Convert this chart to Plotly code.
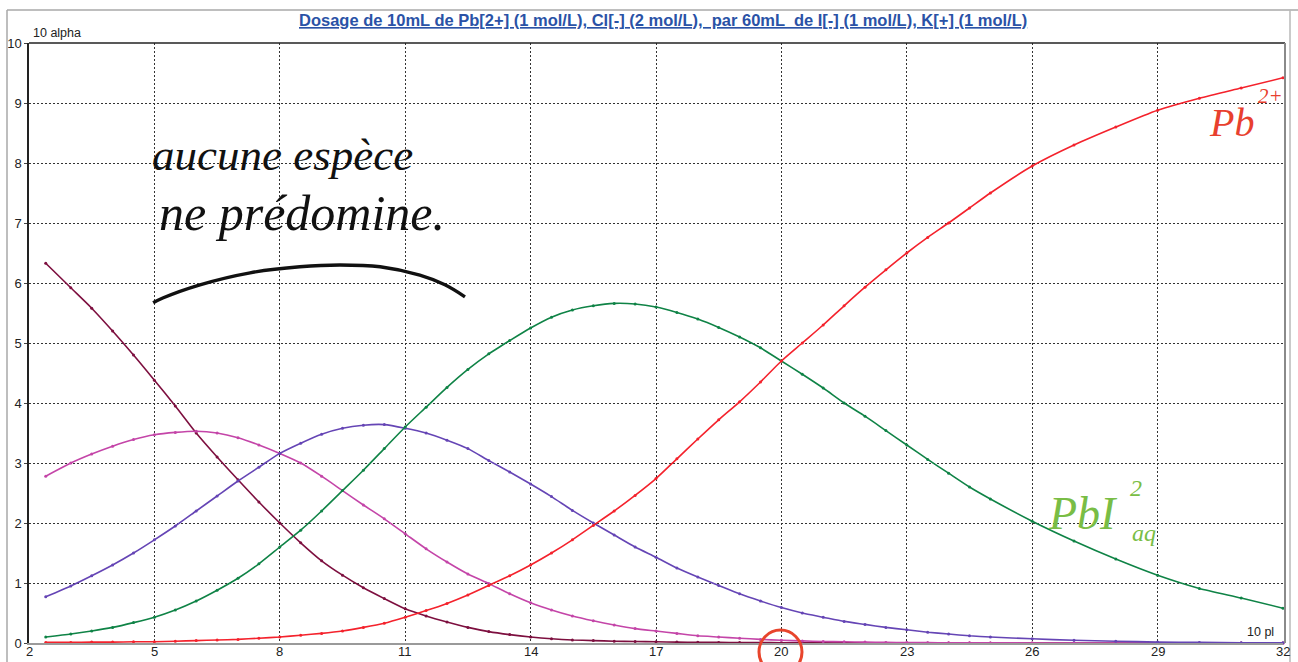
import plotly.graph_objects as go

# Volume axis (unit: 10 pl) and fractions (unit: 10 alpha) of each lead species
volume = [2.4, 3.0, 3.5, 4.0, 4.5, 5.0, 5.5, 6.0, 6.5, 7.0,
          7.5, 8.0, 8.5, 9.0, 9.5, 10.0, 10.5, 11.0, 11.5, 12.0,
          12.5, 13.0, 13.5, 14.0, 14.5, 15.0, 15.5, 16.0, 16.5, 17.0,
          17.5, 18.0, 18.5, 19.0, 19.5, 20.0, 20.5, 21.0, 21.5, 22.0,
          22.5, 23.0, 23.5, 24.0, 24.5, 25.0, 26.0, 27.0, 28.0, 29.0,
          30.0, 31.0, 32.0]

alpha_maroon = [6.33, 5.92, 5.58, 5.2, 4.8, 4.38, 3.95, 3.5, 3.1, 2.72,
                2.35, 2.0, 1.67, 1.37, 1.13, 0.92, 0.74, 0.57, 0.45, 0.35,
                0.26, 0.19, 0.14, 0.1, 0.07, 0.05, 0.04, 0.03, 0.025, 0.02,
                0.015, 0.012, 0.01, 0.008, 0.006, 0.005, 0.004, 0.003, 0.002, 0.002,
                0.001, 0.001, 0.001, 0.001, 0.0, 0.0, 0.0, 0.0, 0.0, 0.0,
                0.0, 0.0, 0.0]

alpha_pink = [2.78, 3.0, 3.15, 3.28, 3.39, 3.47, 3.51, 3.53, 3.5, 3.42,
              3.3, 3.16, 3.0, 2.78, 2.54, 2.3, 2.07, 1.82, 1.57, 1.35,
              1.15, 0.99, 0.82, 0.67, 0.55, 0.45, 0.37, 0.3, 0.24, 0.2,
              0.16, 0.12, 0.1, 0.08, 0.06, 0.045, 0.035, 0.025, 0.02, 0.015,
              0.01, 0.008, 0.006, 0.004, 0.003, 0.002, 0.001, 0.0, 0.0, 0.0,
              0.0, 0.0, 0.0]

alpha_purple = [0.77, 0.95, 1.12, 1.3, 1.5, 1.72, 1.95, 2.2, 2.45, 2.7,
                2.93, 3.16, 3.33, 3.48, 3.58, 3.63, 3.64, 3.58, 3.5, 3.38,
                3.24, 3.04, 2.85, 2.65, 2.44, 2.21, 2.0, 1.8, 1.6, 1.43,
                1.25, 1.1, 0.96, 0.82, 0.7, 0.59, 0.5, 0.43, 0.36, 0.31,
                0.26, 0.22, 0.18, 0.15, 0.12, 0.1, 0.07, 0.045, 0.03, 0.015,
                0.01, 0.005, 0.003]

alpha_pbi2 = [0.1, 0.15, 0.2, 0.26, 0.34, 0.43, 0.55, 0.7, 0.88, 1.08,
              1.32, 1.6, 1.88, 2.2, 2.54, 2.88, 3.24, 3.6, 3.93, 4.26,
              4.56, 4.82, 5.04, 5.25, 5.43, 5.55, 5.62, 5.66, 5.65, 5.6,
              5.51, 5.4, 5.26, 5.1, 4.92, 4.7, 4.48, 4.25, 4.0, 3.78,
              3.54, 3.3, 3.06, 2.83, 2.6, 2.4, 2.03, 1.7, 1.4, 1.13,
              0.91, 0.75, 0.58]

alpha_pb2 = [0.01, 0.01, 0.015, 0.015, 0.02, 0.02, 0.03, 0.04, 0.05, 0.06,
             0.08, 0.1, 0.13, 0.16, 0.2, 0.26, 0.33, 0.43, 0.54, 0.66,
             0.8, 0.96, 1.12, 1.3, 1.5, 1.72, 1.96, 2.2, 2.46, 2.74,
             3.07, 3.4, 3.72, 4.02, 4.35, 4.7, 5.0, 5.3, 5.62, 5.93,
             6.22, 6.5, 6.76, 7.0, 7.25, 7.5, 7.95, 8.3, 8.6, 8.88,
             9.08, 9.25, 9.42]

# Hand-drawn bracket over the region where no species dominates
bracket_x = [4.97, 5.2, 6.09, 7.29, 8.48, 9.44, 10.4, 11.35, 11.95, 12.43]
bracket_y = [5.67, 5.75, 5.97, 6.17, 6.27, 6.3, 6.27, 6.13, 5.97, 5.77]

x_ticks = [2, 5, 8, 11, 14, 17, 20, 23, 26, 29, 32]
y_ticks = list(range(0, 11))

# Plot area in page pixels
L, T, W, H = 29, 43, 1254, 600


def px(x):
    return (x - L) / W


def py(y):
    return (T + H - y) / H


series = [
    (alpha_maroon, "#7d0f3f"),
    (alpha_pink, "#c445a8"),
    (alpha_purple, "#6545b5"),
    (alpha_pbi2, "#0f8346"),
    (alpha_pb2, "#f4222c"),
]

fig = go.Figure()
for values, color in series:
    fig.add_trace(go.Scatter(
        x=volume, y=values, mode="lines+markers",
        line=dict(color=color, width=1.6, shape="spline", smoothing=0.6),
        marker=dict(color=color, size=3),
        showlegend=False, hoverinfo="skip", cliponaxis=False,
    ))

fig.add_trace(go.Scatter(
    x=bracket_x, y=bracket_y, mode="lines",
    line=dict(color="#111111", width=3.4, shape="spline"),
    showlegend=False, hoverinfo="skip",
))

tick_font = dict(family="Liberation Sans, Arial, sans-serif", size=13, color="#222222")

fig.update_xaxes(
    range=[2, 32], tickvals=x_ticks, showticklabels=False,
    showgrid=True, gridcolor="#333333", gridwidth=1, griddash="2px,2px",
    showline=True, linecolor="#9a9a9a", linewidth=2,
    zeroline=False, ticks="", automargin=False,
)
fig.update_yaxes(
    range=[0, 10], tickvals=y_ticks, ticktext=[str(v) for v in y_ticks],
    showgrid=True, gridcolor="#333333", gridwidth=1, griddash="2px,2px",
    showline=True, linecolor="#222222", linewidth=1.5,
    zeroline=False, ticks="outside", ticklen=3, tickcolor="#444444",
    tickfont=tick_font, automargin=False,
)

shapes = [
    # outer window frame
    dict(type="line", xref="paper", yref="paper", x0=px(7), x1=px(7), y0=py(662), y1=py(10),
         line=dict(color="#a8a8a8", width=1.5)),
    dict(type="line", xref="paper", yref="paper", x0=px(7), x1=px(1298), y0=py(10), y1=py(10),
         line=dict(color="#a8a8a8", width=1.5)),
    # top border of the plot area
    dict(type="line", xref="paper", yref="paper", x0=0, x1=px(1285), y0=1, y1=1,
         line=dict(color="#222222", width=1.5)),
    # right border, doubled
    dict(type="line", xref="paper", yref="paper", x0=px(1285), x1=px(1285), y0=0, y1=1,
         line=dict(color="#8a8a8a", width=2)),
    dict(type="line", xref="paper", yref="paper", x0=px(1290), x1=px(1290), y0=py(662), y1=py(10),
         line=dict(color="#b8b8b8", width=1.5)),
    # circle around the tick label 20
    dict(type="circle", xref="paper", yref="paper", x0=px(759), x1=px(802), y0=py(674), y1=py(630),
         line=dict(color="#e8452c", width=3)),
]

hand = "Liberation Serif, DejaVu Serif, serif"
annotations = [
    dict(text="<b><u>Dosage de 10mL de Pb[2+] (1 mol/L), Cl[-] (2 mol/L),  par 60mL  de I[-] (1 mol/L), K[+] (1 mol/L)</u></b>",
         xref="paper", yref="paper", x=px(663), y=py(20), xanchor="center", yanchor="middle",
         showarrow=False, font=dict(family="Liberation Sans Narrow, Liberation Sans, Arial", size=16.5, color="#2a52a6")),
    dict(text="10 alpha", xref="paper", yref="paper", x=px(31), y=py(33), xanchor="left", yanchor="middle",
         showarrow=False, font=dict(family="Liberation Sans, Arial", size=12.5, color="#222222")),
    dict(text="10 pl", xref="paper", yref="paper", x=px(1276), y=py(632), xanchor="right", yanchor="middle",
         showarrow=False, font=dict(family="Liberation Sans, Arial", size=12.5, color="#222222")),
    dict(text="<i>aucune espèce</i>", xref="paper", yref="paper", x=px(150), y=py(155), xanchor="left", yanchor="middle",
         showarrow=False, font=dict(family=hand, size=45, color="#111111")),
    dict(text="<i>ne prédomine.</i>", xref="paper", yref="paper", x=px(157), y=py(213), xanchor="left", yanchor="middle",
         showarrow=False, font=dict(family=hand, size=50, color="#111111")),
    dict(text="<i>Pb</i>", xref="paper", yref="paper", x=px(1207), y=py(122), xanchor="left", yanchor="middle",
         showarrow=False, font=dict(family=hand, size=40, color="#e8402e")),
    dict(text="<i>2+</i>", xref="paper", yref="paper", x=px(1256), y=py(96), xanchor="left", yanchor="middle",
         showarrow=False, font=dict(family=hand, size=21, color="#e8402e")),
    dict(text="<i>PbI</i>", xref="paper", yref="paper", x=px(1046), y=py(513), xanchor="left", yanchor="middle",
         showarrow=False, font=dict(family=hand, size=46, color="#79bd45")),
    dict(text="<i>2</i>", xref="paper", yref="paper", x=px(1128), y=py(488), xanchor="left", yanchor="middle",
         showarrow=False, font=dict(family=hand, size=24, color="#79bd45")),
    dict(text="<i>aq</i>", xref="paper", yref="paper", x=px(1130), y=py(533), xanchor="left", yanchor="middle",
         showarrow=False, font=dict(family=hand, size=24, color="#79bd45")),
]

# x tick labels placed just under the axis line
for v in x_ticks:
    annotations.append(dict(
        text=str(v), xref="x", yref="paper", x=v, y=py(652), xanchor="center", yanchor="middle",
        showarrow=False, font=tick_font,
    ))

fig.update_layout(
    width=1298, height=662,
    margin=dict(l=L, r=1298 - L - W, t=T, b=662 - T - H, pad=0),
    paper_bgcolor="white", plot_bgcolor="white",
    shapes=shapes, annotations=annotations,
    showlegend=False,
)

fig.write_html("out.html")
